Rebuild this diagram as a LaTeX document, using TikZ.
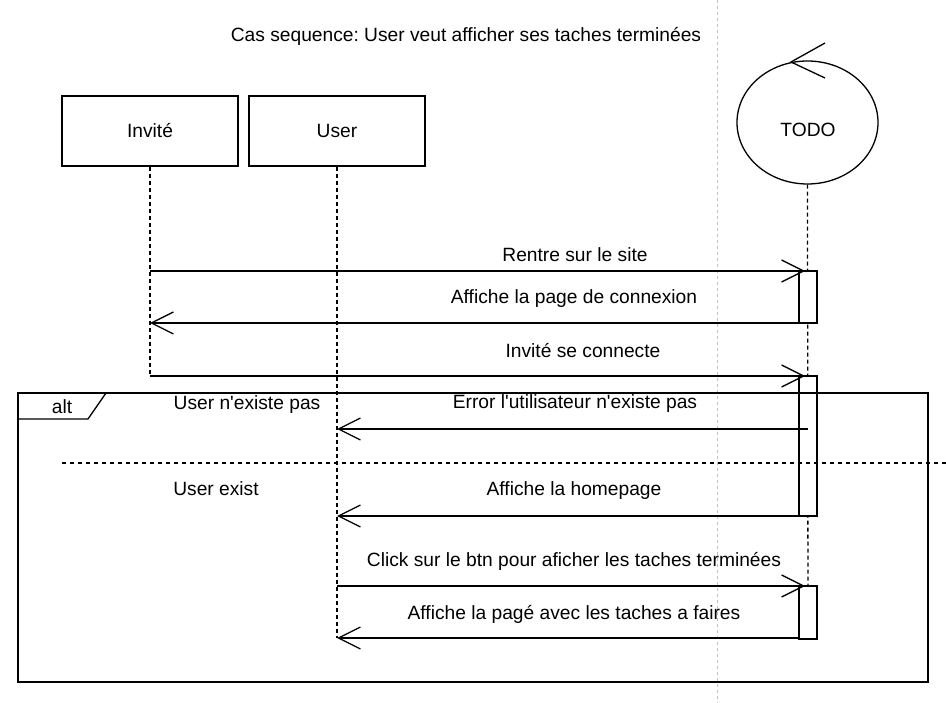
\documentclass[tikz,border=0pt]{standalone}
\usepackage{fontspec}
\setmainfont{Liberation Sans}
\usepackage{tikz}
\usetikzlibrary{arrows.meta,shapes.geometric}
\frenchspacing

\tikzset{
  actorbox/.style={draw, line width=1.3pt, fill=white, minimum width=176pt, minimum height=70pt, inner sep=0pt},
  ctrlnode/.style={draw, ellipse, line width=1.3pt, fill=white, minimum width=141pt, minimum height=123pt, inner sep=0pt},
  lifeline/.style={line width=1.3pt, dash pattern=on 4pt off 3pt},
  activebox/.style={draw, line width=1.3pt, fill=white, minimum width=18pt, inner sep=0pt},
  msg/.style={line width=1.3pt, -{Straight Barb[length=22pt, width=22pt, line width=1.3pt]}},
  lbl/.style={inner sep=0pt}
}

\begin{document}
\begin{tikzpicture}[x=1pt, y=-1pt, font=\fontsize{19.2}{23}\selectfont]
\useasboundingbox (0,0) rectangle (946,703);

% Light grey guide line in the background
\draw [gray!50, line width=0.8pt, dash pattern=on 3pt off 3pt] (717.5,0) -- (717.5,703);

% Title
\node[lbl] (title) at (466,36) {Cas sequence: User veut afficher ses taches terminées};

% The two actors and the control object
\node[actorbox] (invite) at (150,131) {Invité};
\node[actorbox] (user) at (337,131) {User};
\node[ctrlnode] (todo) at (807.5,122.5) {};
\node[lbl] (todoname) at (808,130) {TODO};
\draw [line width=1.3pt] (825,43) -- (791,62) -- (825,78);

% Lifelines
\coordinate (inviteend) at (150,376);
\coordinate (userend) at (337,638);
\coordinate (todoend) at (808,639);
\draw [lifeline] (invite.south) -- (inviteend);
\draw [lifeline] (user.south) -- (userend);
\draw [lifeline] (todo.south) -- (todoend);

% Activation boxes on the TODO lifeline
\node[activebox, minimum height=52pt] (act1) at (808,297) {};
\node[activebox, minimum height=140pt] (act2) at (808,446) {};
\node[activebox, minimum height=53pt] (act3) at (808,612.5) {};

% Messages before the alt block
\coordinate (m1a) at (150,271);  \coordinate (m1b) at (805,271);
\coordinate (m2a) at (799,323);  \coordinate (m2b) at (150,323);
\coordinate (m3a) at (150,376);  \coordinate (m3b) at (805,376);
\draw [msg] (m1a) -- (m1b);
\node[lbl] (t1) at (575,255) {Rentre sur le site};
\draw [msg] (m2a) -- (m2b);
\node[lbl] (t2) at (574,299) {Affiche la page de connexion};
\draw [msg] (m3a) -- (m3b);
\node[lbl] (t3) at (583,351) {Invité se connecte};

% Messages inside the alt block
\coordinate (m4a) at (808,429);  \coordinate (m4b) at (337,429);
\coordinate (m5a) at (799,516);  \coordinate (m5b) at (337,516);
\draw [msg] (m4a) -- (m4b);
\node[lbl] (t4) at (575,404) {Error l\textquotesingle utilisateur n\textquotesingle existe pas};
\draw [msg] (m5a) -- (m5b);
\node[lbl] (t5) at (574,491) {Affiche la homepage};

% Messages after the first choice
\coordinate (m6a) at (337,586);  \coordinate (m6b) at (805,586);
\coordinate (m7a) at (799,638);  \coordinate (m7b) at (337,638);
\draw [msg] (m6a) -- (m6b);
\node[lbl] (t6) at (574,561) {Click sur le btn pour aficher les taches terminées};
\draw [msg] (m7a) -- (m7b);
\node[lbl] (t7) at (574,614) {Affiche la pagé avec les taches a faires};

% The alt frame with its tag, guards and separator
\draw [line width=1.3pt] (18,393) rectangle (928,682);
\draw [line width=1.3pt] (18,419) -- (88,419) -- (106,393);
\node[lbl] (alttag) at (62,407) {alt};
\node[lbl] (guard1) at (247,405) {User n\textquotesingle existe pas};
\node[lbl] (guard2) at (216,489) {User exist};
\draw [line width=1.3pt, dash pattern=on 4pt off 4pt] (62,463) -- (946,463);

\end{tikzpicture}
\end{document}
